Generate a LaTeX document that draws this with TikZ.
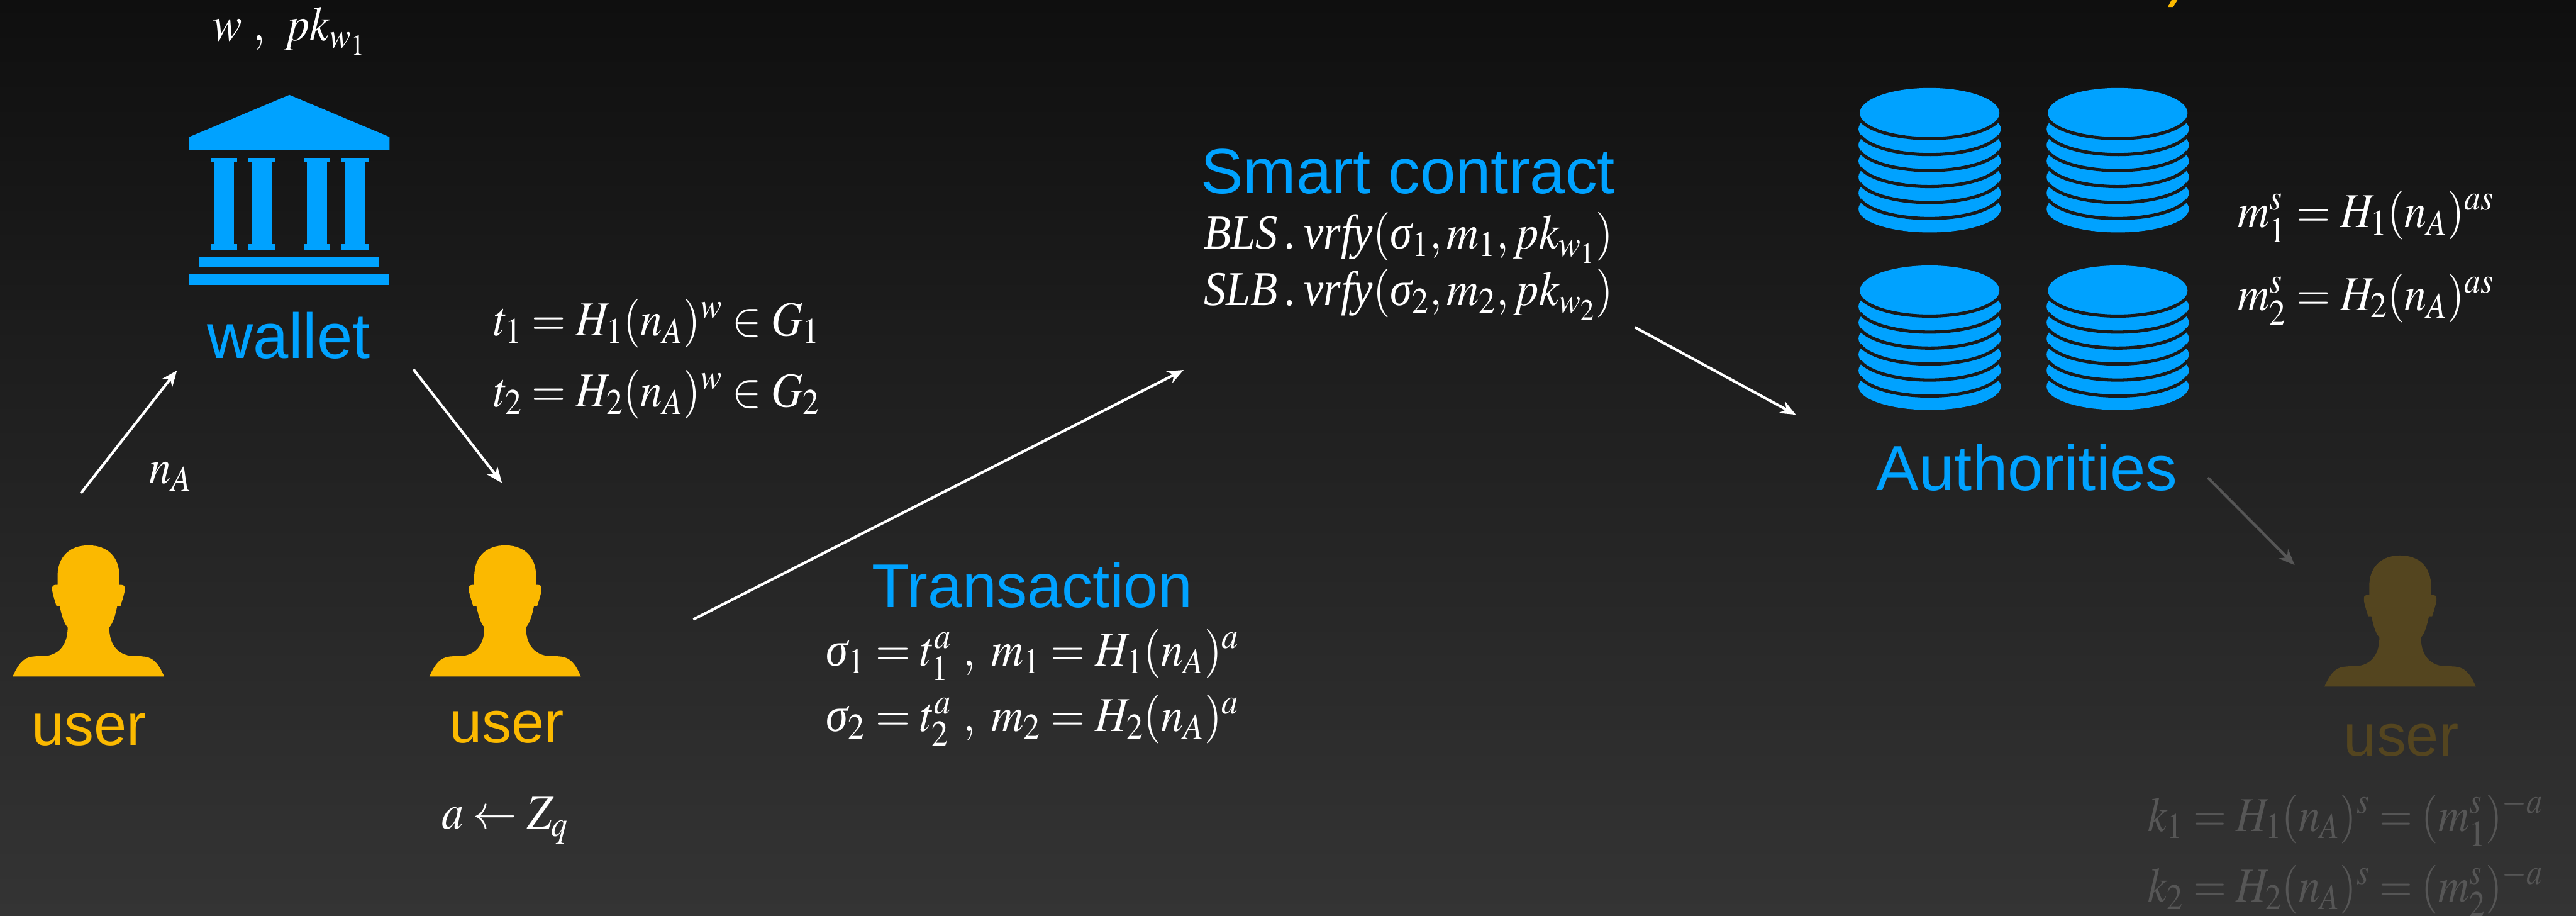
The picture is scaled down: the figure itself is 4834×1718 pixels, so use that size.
\documentclass[tikz,border=0pt]{standalone}
\usepackage{mathptmx}
\usepackage{fontspec}
\setmainfont{Liberation Serif}
\setsansfont{Liberation Sans}
\usetikzlibrary{arrows.meta}

\definecolor{bgtop}{HTML}{0F0F0F}
\definecolor{bgbot}{HTML}{343434}
\definecolor{skyc}{HTML}{00A2FF}
\definecolor{amberc}{HTML}{FBB900}
\definecolor{dimamber}{HTML}{54451F}
\definecolor{dimgray}{HTML}{565656}
\definecolor{gapc}{HTML}{1A1A1A}

\newcommand{\sig}{\mbox{\itshape σ}}
\newcommand{\itx}[1]{\mbox{\itshape #1}}

\tikzset{
  title/.style={anchor=base, inner sep=0pt, font=\sffamily\fontsize{34}{34}\selectfont, text=skyc},
  usertext/.style={anchor=base, inner sep=0pt, font=\sffamily\fontsize{31.5}{32}\selectfont},
  formula/.style={anchor=base, inner sep=0pt, text=white, font=\fontsize{26}{26}\selectfont, transform shape, xscale=0.9},
  flow/.style={->, line width=1.4pt, white},
  person/.pic={
    \fill[pic actions] (-142,0) .. controls (-125,-40) and (-110,-38) .. (-83,-38)
      .. controls (-51,-41) and (-39,-64) .. (-39,-92)
      .. controls (-48,-103) and (-51,-119) .. (-54,-132)
      -- (-60,-132) .. controls (-64,-145) and (-69,-160) .. (-68,-165)
      .. controls (-68,-170) and (-67,-172) .. (-58,-172)
      -- (-58,-188) .. controls (-58,-224) and (-36,-246) .. (0,-246)
      .. controls (36,-246) and (58,-224) .. (58,-188)
      -- (58,-172) .. controls (67,-172) and (68,-170) .. (68,-165)
      .. controls (69,-160) and (64,-145) .. (60,-132)
      -- (54,-132) .. controls (51,-119) and (48,-103) .. (39,-92)
      .. controls (39,-64) and (51,-41) .. (83,-38)
      .. controls (110,-38) and (125,-40) .. (142,0) -- cycle;
  },
  diskstack/.pic={
    \foreach \k in {6,...,1}{
      \fill[skyc] (0,{30*\k}) ellipse [x radius=133.5, y radius=44];
      \ifnum\k<6
        \draw[gapc, line width=1.7pt] (-130.4,{30*\k+12.4}) arc [start angle=195, end angle=345, x radius=135, y radius=-48];
      \fi
    }
    \fill[skyc] (0,0) ellipse [x radius=131, y radius=47];
    \draw[gapc, line width=1.7pt] (-130.4,12.4) arc [start angle=195, end angle=345, x radius=135, y radius=-48];
  },
}

\begin{document}
\begin{tikzpicture}[x=0.01cm, y=-0.01cm, >={Stealth[length=8.5pt, width=7pt]}]
  \shade[top color=bgtop, bottom color=bgbot] (0,0) rectangle (4834,1718);
  \useasboundingbox (0,0) rectangle (4834,1718);

  % wallet
  \fill[skyc] (355,257) -- (355,282) -- (731,282) -- (731,257) -- (543,178) -- cycle;
  \foreach \px in {420,491,595,666}{
    \fill[skyc] ({\px-25},296) rectangle ({\px+25},305);
    \fill[skyc] ({\px-18.5},305) rectangle ({\px+18.5},458);
    \fill[skyc] ({\px-25},458) rectangle ({\px+25},468);
  }
  \fill[skyc] (374,481) rectangle (712,501);
  \fill[skyc] (355,515) rectangle (731,535);
  \node[title] (wallet) at (542,672) {wallet};
  \node[formula] (walletkeys) at (543,76) {$w\ ,\;\,pk_{w_1}$};
  \node[formula] (tone) at (1233,630) {$t_1=H_1(n_A)^w\in G_1$};
  \node[formula] (ttwo) at (1233,763) {$t_2=H_2(n_A)^w\in G_2$};

  % users
  \pic[fill=amberc] at (166,1269) {person};
  \pic[fill=amberc] at (948,1269) {person};
  \pic[fill=dimamber] at (4504,1288) {person};
  \node[usertext, text=amberc] (userleft) at (167,1398) {user};
  \node[usertext, text=amberc] (usermid) at (951,1393) {user};
  \node[usertext, text=dimamber] (userright) at (4506,1418) {user};
  \node[formula] (nonce) at (320,907) {$n_A$};
  \node[formula] (blind) at (948,1555) {$a\leftarrow Z_q$};

  % transaction
  \node[title, font=\sffamily\fontsize{33}{33}\selectfont] (tx) at (1937,1139) {Transaction};
  \node[formula, xscale=1.017] (sigone) at (1938,1249) {$\sig_1=t_1^a\ ,\ m_1=H_1(n_A)^a$};
  \node[formula, xscale=1.017] (sigtwo) at (1938,1372) {$\sig_2=t_2^a\ ,\ m_2=H_2(n_A)^a$};

  % contract
  \node[title] (contract) at (2642,363) {Smart contract};
  \node[formula, xscale=1.014] (blscheck) at (2643,467) {$\itx{BLS\,.\,vrfy}(\sig_1,m_1,pk_{w_1})$};
  \node[formula, xscale=1.014] (slbcheck) at (2643,573) {$\itx{SLB\,.\,vrfy}(\sig_2,m_2,pk_{w_2})$};

  % authorities
  \pic at (3621,212) {diskstack};
  \pic at (3974,212) {diskstack};
  \pic at (3621,545) {diskstack};
  \pic at (3974,545) {diskstack};
  \node[title] (auth) at (3804,920) {Authorities};
  \node[formula] (mone) at (4440,427) {$m_1^s=H_1(n_A)^{as}$};
  \node[formula] (mtwo) at (4440,582) {$m_2^s=H_2(n_A)^{as}$};
  \node[formula, text=dimgray, xscale=0.973] (kone) at (4402,1559) {$k_1=H_1(n_A)^s=(m_1^s)^{-a}$};
  \node[formula, text=dimgray, xscale=0.973] (ktwo) at (4402,1692) {$k_2=H_2(n_A)^s=(m_2^s)^{-a}$};
  \fill[amberc] (4068,13) -- (4078,13) -- (4086,0) -- (4075,0) -- cycle;

  % arrows
  \coordinate (a1) at (152,925);
  \coordinate (a2) at (332,695);
  \coordinate (b1) at (776,693);
  \coordinate (b2) at (942,906);
  \coordinate (c1) at (1301,1162);
  \coordinate (c2) at (2221,694);
  \coordinate (d1) at (3068,614);
  \coordinate (d2) at (3370,778);
  \coordinate (e1) at (4143,896);
  \coordinate (e2) at (4306,1060);
  \draw[flow] (a1) -- (a2);
  \draw[flow] (b1) -- (b2);
  \draw[flow] (c1) -- (c2);
  \draw[flow] (d1) -- (d2);
  \draw[flow, dimgray] (e1) -- (e2);
\end{tikzpicture}
\end{document}
